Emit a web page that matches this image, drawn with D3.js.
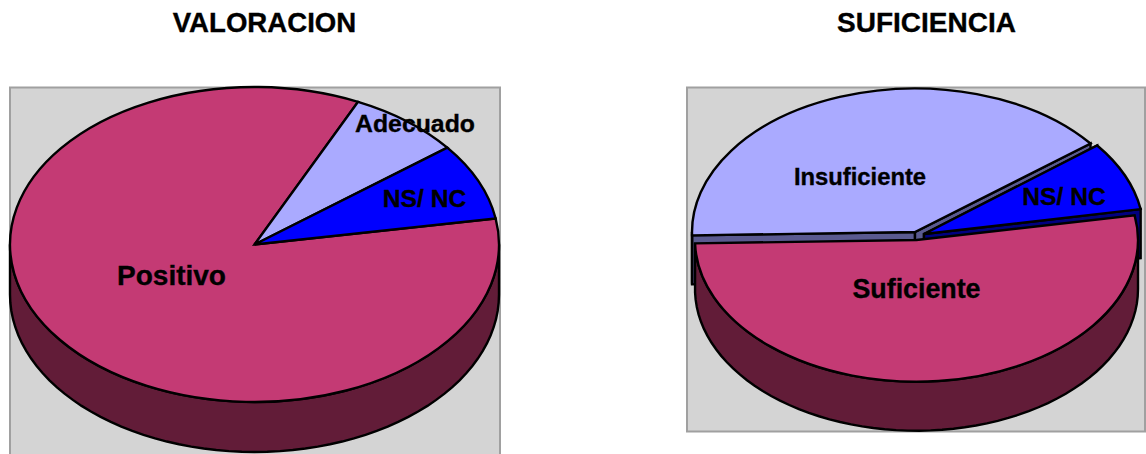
<!DOCTYPE html>
<html>
  <head>
    <meta charset="utf-8">
    <title>Valoracion y suficiencia</title>
    <script src="https://d3js.org/d3.v7.min.js"></script>
    <style>
      html, body { margin: 0; padding: 0; background: #fff; }
      svg { display: block; }
      text { font-family: "Liberation Sans", Arial, sans-serif; font-weight: bold; fill: #000; stroke: #000; stroke-width: 0.35px; text-anchor: middle; }
    </style>
  </head>
  <body>
    <svg id="chartSvg" width="1146" height="454"></svg>
    <script>
      // values, in percent
      var valoracionCats = ["Positivo", "Adecuado", "NS/ NC"];
      var valoracionValues = [84.6, 7.5, 7.9];
      var suficienciaCats = ["Suficiente", "Insuficiente", "NS/ NC"];
      var suficienciaValues = [52.4, 39.8, 7.8];

      var colors = {
        "Positivo": ["#c43a74", "#621c38"],
        "Suficiente": ["#c43a74", "#621c38"],
        "Adecuado": ["#aaaaff", "#5a5a90"],
        "Insuficiente": ["#aaaaff", "#5a5a90"],
        "NS/ NC": ["#0000ff", "#000080"]
      };

      var svg = d3.select("#chartSvg");
      var rad = Math.PI / 180;
      var lineW = 2.4;

      function drawPie(cfg) {
        svg.append("rect")
          .attr("x", cfg.box[0]).attr("y", cfg.box[1])
          .attr("width", cfg.box[2]).attr("height", cfg.box[3])
          .style("fill", "#d4d4d4").style("stroke", "#a0a0a0").style("stroke-width", 2);

        svg.append("text").attr("x", cfg.titleX).attr("y", 31.5)
          .style("font-size", cfg.titleSize + "px").text(cfg.title);

        var start = cfg.start * rad;
        var slices = d3.pie().sort(null).value(function(d) { return d; })
          .startAngle(start).endAngle(start + 2 * Math.PI)(cfg.values);

        // painter order, back slices first
        cfg.order.forEach(function(i) {
          var s = slices[i], g = cfg.geom[i], name = cfg.cats[i];
          var g0 = svg.append("g");
          var px = function(a) { return g.cx + g.rx * Math.sin(a); };
          var py = function(a) { return g.cy - g.ry * Math.cos(a); };

          if (g.cut) {
            [s.startAngle, s.endAngle].forEach(function(a) {
              var pts = [[g.cx, g.cy], [px(a), py(a)], [px(a), py(a) + cfg.depth], [g.cx, g.cy + cfg.depth]];
              g0.append("path").attr("d", d3.line()(pts) + "Z")
                .style("fill", colors[name][1]).style("stroke", "#000").style("stroke-width", lineW);
            });
          }

          // outer wall, only the part facing the viewer
          var a0 = Math.max(s.startAngle, 90 * rad), a1 = Math.min(s.endAngle, 270 * rad);
          if (a1 > a0) {
            var steps = d3.range(0, 61).map(function(k) { return a0 + (a1 - a0) * k / 60; });
            var wall = d3.area()
              .x(function(a) { return px(a); })
              .y0(function(a) { return py(a); })
              .y1(function(a) { return py(a) + cfg.depth; });
            g0.append("path").attr("d", wall(steps))
              .style("fill", colors[name][1]).style("stroke", "#000").style("stroke-width", lineW);
          }

          var arc = d3.arc().innerRadius(0).outerRadius(g.rx);
          g0.append("path").attr("d", arc(s))
            .attr("transform", "translate(" + g.cx + "," + g.cy + ") scale(1," + (g.ry / g.rx) + ")")
            .attr("vector-effect", "non-scaling-stroke")
            .style("fill", colors[name][0]).style("stroke", "#000").style("stroke-width", lineW);
        });

        cfg.cats.forEach(function(name, i) {
          var l = cfg.labels[i];
          svg.append("text").attr("x", l[0]).attr("y", l[1])
            .style("font-size", l[2] + "px").text(name);
        });
      }

      drawPie({
        title: "VALORACION", titleX: 264.5, titleSize: 27.6,
        box: [10, 87.5, 490, 400],
        start: 80.5, depth: 50,
        values: valoracionValues, cats: valoracionCats,
        order: [0, 1, 2],
        geom: [
          { cx: 254.5, cy: 244.5, rx: 244.5, ry: 157.5 },
          { cx: 254.5, cy: 244.5, rx: 244.5, ry: 157.5 },
          { cx: 254.5, cy: 244.5, rx: 244.5, ry: 157.5 }
        ],
        labels: [[171.5, 285, 28], [415, 132, 24.8], [424.5, 207, 24.6]]
      });

      drawPie({
        title: "SUFICIENCIA", titleX: 926.5, titleSize: 28,
        box: [687, 87.5, 458, 344],
        start: 80, depth: 49,
        values: suficienciaValues, cats: suficienciaCats,
        order: [1, 2, 0],
        geom: [
          { cx: 916.5, cy: 240, rx: 221.5, ry: 141.7 },
          { cx: 915, cy: 232, rx: 223, ry: 143.5, cut: true },
          { cx: 924, cy: 234, rx: 220, ry: 143.5, cut: true }
        ],
        labels: [[916.5, 298, 26.8], [860, 185, 23.8], [1064, 205, 24.6]]
      });
    </script>
  </body>
</html>
